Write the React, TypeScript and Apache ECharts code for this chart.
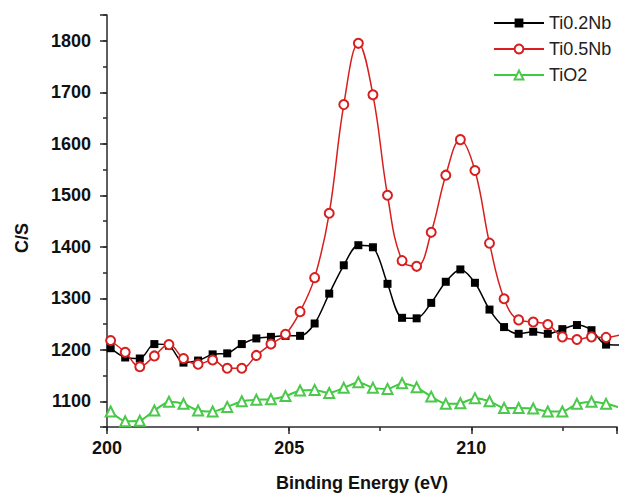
import React, { useEffect, useRef } from "react";
import * as echarts from "echarts";

const energies = [
  200.1, 200.5, 200.9, 201.3, 201.7, 202.1, 202.5, 202.9, 203.3, 203.7, 204.1, 204.5,
  204.9, 205.3, 205.7, 206.1, 206.5, 206.9, 207.3, 207.7, 208.1, 208.5, 208.9, 209.3,
  209.7, 210.1, 210.5, 210.9, 211.3, 211.7, 212.1, 212.5, 212.9, 213.3, 213.7, 214.1,
];

const ti02Nb = [
  1203, 1185, 1183, 1211, 1208, 1175, 1179, 1191, 1193, 1211, 1222, 1225,
  1227, 1227, 1251, 1309, 1364, 1403, 1399, 1328, 1262, 1261, 1291, 1332,
  1356, 1330, 1278, 1244, 1231, 1235, 1231, 1240, 1248, 1238, 1210, 1209,
];

const ti05Nb = [
  1218, 1195, 1167, 1188, 1210, 1183, 1172, 1180, 1164, 1164, 1189, 1211,
  1230, 1274, 1340, 1465, 1676, 1795, 1695, 1500, 1373, 1362, 1428, 1539,
  1608, 1548, 1407, 1299, 1258, 1254, 1249, 1225, 1220, 1225, 1224, 1229,
];

const tiO2 = [
  1080, 1061, 1062, 1082, 1099, 1095, 1082, 1080, 1089, 1100, 1103, 1104,
  1110, 1121, 1122, 1116, 1126, 1137, 1126, 1124, 1135, 1127, 1109, 1095,
  1096, 1106, 1100, 1087, 1087, 1086, 1080, 1080, 1095, 1099, 1095, 1087,
];

const seriesNames = ["Ti0.2Nb", "Ti0.5Nb", "TiO2"];
const xLabels = [200, 205, 210];
const yLabels = [1100, 1200, 1300, 1400, 1500, 1600, 1700, 1800];

const FONT = "'Liberation Sans', Arial, sans-serif";
const AXIS_COLOR = "#2a2a2a";

function pairs(ys: number[]) {
  return ys.map((y, i) => [energies[i], y]);
}

export default function App() {
  const ref = useRef<HTMLDivElement>(null);

  useEffect(() => {
    if (!ref.current) return;
    const chart = echarts.init(ref.current, null, { renderer: "svg" });

    const labelStyle = {
      fontFamily: FONT,
      fontWeight: "bold" as const,
      fontSize: 18,
      color: "#111",
    };

    chart.setOption({
      animation: false,
      backgroundColor: "#fff",
      grid: { left: 107, right: 10, top: 15, bottom: 67, containLabel: false },
      legend: {
        orient: "vertical",
        left: 488,
        top: 9,
        itemWidth: 50,
        itemHeight: 11,
        itemGap: 8,
        textStyle: { fontFamily: FONT, fontSize: 18, color: "#222" },
        data: seriesNames,
      },
      xAxis: [
        {
          type: "value",
          min: 200,
          max: 214,
          interval: 2.5,
          position: "bottom",
          name: "Binding Energy (eV)",
          nameLocation: "middle",
          nameGap: 47,
          nameTextStyle: { fontFamily: FONT, fontWeight: "bold", fontSize: 18, color: "#111" },
          axisLine: { show: true, onZero: false, lineStyle: { color: AXIS_COLOR, width: 1.5 } },
          axisTick: { show: true, length: 4, lineStyle: { color: AXIS_COLOR, width: 1.5 } },
          axisLabel: {
            ...labelStyle,
            margin: 12,
            formatter: (v: number) => (xLabels.includes(v) ? String(v) : ""),
          },
          splitLine: { show: false },
        },
        {
          type: "value",
          min: 200,
          max: 214,
          interval: 5,
          position: "bottom",
          offset: 0,
          axisLine: { show: false, onZero: false },
          axisTick: { show: true, length: 7, lineStyle: { color: AXIS_COLOR, width: 1.5 } },
          axisLabel: { show: false },
          splitLine: { show: false },
        },
      ],
      yAxis: [
        {
          type: "value",
          min: 1050,
          max: 1850,
          interval: 50,
          position: "left",
          axisLine: { show: true, onZero: false, lineStyle: { color: AXIS_COLOR, width: 1.5 } },
          axisTick: { show: true, length: 4, lineStyle: { color: AXIS_COLOR, width: 1.5 } },
          axisLabel: {
            ...labelStyle,
            margin: 16,
            formatter: (v: number) => (yLabels.includes(v) ? String(v) : ""),
          },
          splitLine: { show: false },
        },
        {
          type: "value",
          min: 1050,
          max: 1850,
          splitNumber: 8,
          position: "left",
          offset: 0,
          axisLine: { show: false, onZero: false },
          axisTick: { show: true, length: 7, lineStyle: { color: AXIS_COLOR, width: 1.5 } },
          axisLabel: { show: false },
          splitLine: { show: false },
        },
      ],
      graphic: [
        {
          type: "text",
          x: 22,
          y: 238,
          rotation: Math.PI / 2,
          style: {
            text: "C/S",
            fontFamily: FONT,
            fontWeight: "bold",
            fontSize: 18,
            fill: "#111",
            align: "center",
            verticalAlign: "middle",
          },
        },
      ],
      series: [
        {
          name: seriesNames[0],
          type: "line",
          xAxisIndex: 0,
          yAxisIndex: 0,
          data: pairs(ti02Nb),
          smooth: 0.3,
          clip: true,
          symbol: "rect",
          symbolSize: 8,
          showAllSymbol: true,
          z: 3,
          lineStyle: { color: "#000", width: 1.5 },
          itemStyle: { color: "#000" },
        },
        {
          name: seriesNames[1],
          type: "line",
          xAxisIndex: 0,
          yAxisIndex: 0,
          data: pairs(ti05Nb),
          smooth: 0.4,
          clip: true,
          symbol: "emptyCircle",
          symbolSize: 9,
          showAllSymbol: true,
          z: 4,
          lineStyle: { color: "#d81e1e", width: 1.5 },
          itemStyle: { color: "#d81e1e", borderWidth: 1.2 },
        },
        {
          name: seriesNames[2],
          type: "line",
          xAxisIndex: 0,
          yAxisIndex: 0,
          data: pairs(tiO2),
          smooth: 0.2,
          clip: true,
          symbol: "emptyTriangle",
          symbolSize: 10,
          showAllSymbol: true,
          z: 2,
          lineStyle: { color: "#3ccc3c", width: 2 },
          itemStyle: { color: "#4cc84c", borderWidth: 1.2 },
        },
      ],
    });

    return () => chart.dispose();
  }, []);

  return (
    <div
      ref={ref}
      style={{ position: "fixed", left: 0, top: 0, width: 627, height: 497, background: "#fff" }}
    />
  );
}
